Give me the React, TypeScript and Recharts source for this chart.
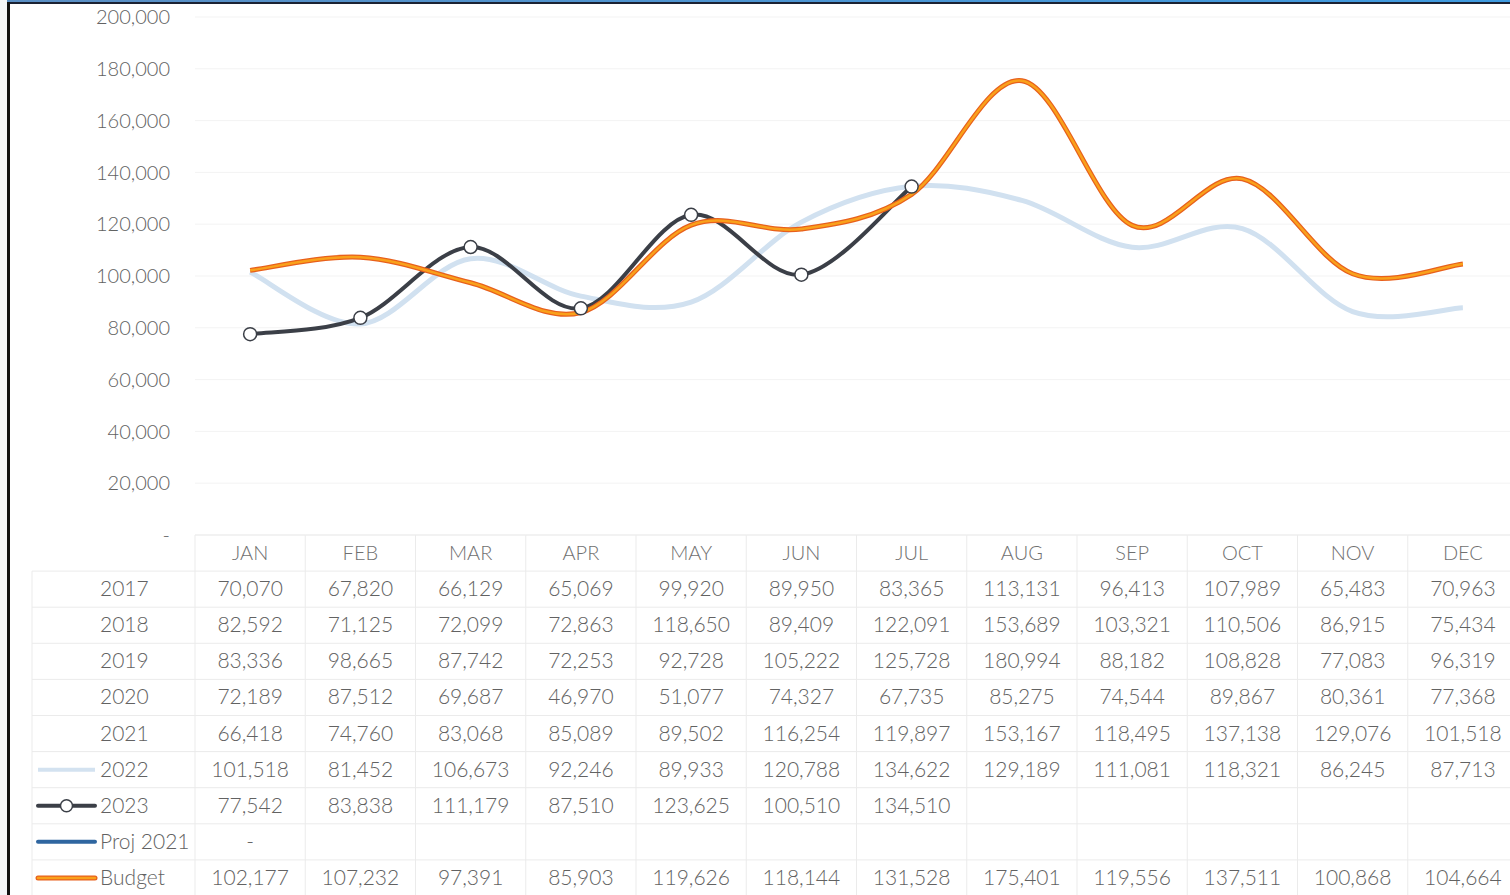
import React from 'react';
import { LineChart, Line, XAxis, YAxis, CartesianGrid } from 'recharts';

const months = ['JAN', 'FEB', 'MAR', 'APR', 'MAY', 'JUN', 'JUL', 'AUG', 'SEP', 'OCT', 'NOV', 'DEC'];

const y2017 = [70070, 67820, 66129, 65069, 99920, 89950, 83365, 113131, 96413, 107989, 65483, 70963];
const y2018 = [82592, 71125, 72099, 72863, 118650, 89409, 122091, 153689, 103321, 110506, 86915, 75434];
const y2019 = [83336, 98665, 87742, 72253, 92728, 105222, 125728, 180994, 88182, 108828, 77083, 96319];
const y2020 = [72189, 87512, 69687, 46970, 51077, 74327, 67735, 85275, 74544, 89867, 80361, 77368];
const y2021 = [66418, 74760, 83068, 85089, 89502, 116254, 119897, 153167, 118495, 137138, 129076, 101518];
const y2022 = [101518, 81452, 106673, 92246, 89933, 120788, 134622, 129189, 111081, 118321, 86245, 87713];
const y2023 = [77542, 83838, 111179, 87510, 123625, 100510, 134510, null, null, null, null, null];
const proj2021 = [0, null, null, null, null, null, null, null, null, null, null, null];
const budget = [102177, 107232, 97391, 85903, 119626, 118144, 131528, 175401, 119556, 137511, 100868, 104664];

const yTicks = [0, 20000, 40000, 60000, 80000, 100000, 120000, 140000, 160000, 180000, 200000];

const rows = [
  { label: '2017', values: y2017, key: 'none' },
  { label: '2018', values: y2018, key: 'none' },
  { label: '2019', values: y2019, key: 'none' },
  { label: '2020', values: y2020, key: 'none' },
  { label: '2021', values: y2021, key: 'none' },
  { label: '2022', values: y2022, key: 'light' },
  { label: '2023', values: y2023, key: 'dark' },
  { label: 'Proj 2021', values: proj2021, key: 'blue' },
  { label: 'Budget', values: budget, key: 'orange' },
];

const data = months.map((m, i) => ({
  month: m,
  y2022: y2022[i],
  y2023: y2023[i],
  proj2021: proj2021[i],
  budget: budget[i],
}));

const CHART_W = 1530;
const CHART_H = 895;
const Y_AXIS_W = 195;
const MARGIN_R = 12;
const BAND = (CHART_W - Y_AXIS_W - MARGIN_R) / months.length;
const ROW_H = 36.1;
const FONT = 'Lato, "Noto Sans", sans-serif';
const TEXT = '#626262';
const GRID = '#ebebeb';

const fmt = (v: number | null) => (v === null || v === undefined ? '' : v === 0 ? '-' : v.toLocaleString('en-US'));

// Excel-style smoothing: cubic bezier through the points, catmull-rom tangents
const excelSmooth = (context: any) => {
  let pts: number[][] = [];
  return {
    areaStart() {},
    areaEnd() {},
    lineStart() {
      pts = [];
    },
    point(x: number, y: number) {
      pts.push([+x, +y]);
    },
    lineEnd() {
      const n = pts.length;
      if (!n) return;
      context.moveTo(pts[0][0], pts[0][1]);
      for (let i = 0; i < n - 1; i++) {
        const p0 = pts[Math.max(i - 1, 0)];
        const p1 = pts[i];
        const p2 = pts[i + 1];
        const p3 = pts[Math.min(i + 2, n - 1)];
        context.bezierCurveTo(
          p1[0] + (p2[0] - p0[0]) / 6,
          p1[1] + (p2[1] - p0[1]) / 6,
          p2[0] - (p3[0] - p1[0]) / 6,
          p2[1] - (p3[1] - p1[1]) / 6,
          p2[0],
          p2[1]
        );
      }
    },
  };
};

const LegendKey = ({ kind, cx, cy }: { kind: string; cx: number; cy: number }) => {
  const x1 = cx;
  const x2 = cx + 57;
  if (kind === 'light') return <line x1={x1} x2={x2} y1={cy} y2={cy} stroke="#d3e2f0" strokeWidth={4} />;
  if (kind === 'blue') return <line x1={x1} x2={x2} y1={cy} y2={cy} stroke="#2f66a0" strokeWidth={4} strokeLinecap="round" />;
  if (kind === 'orange')
    return (
      <g>
        <line x1={x1} x2={x2} y1={cy} y2={cy} stroke="#e8601c" strokeWidth={5} strokeLinecap="round" />
        <line x1={x1} x2={x2} y1={cy} y2={cy} stroke="#f9a11b" strokeWidth={2.5} strokeLinecap="round" />
      </g>
    );
  if (kind === 'dark')
    return (
      <g>
        <line x1={x1} x2={x2} y1={cy} y2={cy} stroke="#3b3f47" strokeWidth={4} strokeLinecap="round" />
        <circle cx={(x1 + x2) / 2} cy={cy} r={6} fill="#fff" stroke="#3b3f47" strokeWidth={1.5} />
      </g>
    );
  return null;
};

const TableTick = (props: any) => {
  const { x, y, payload, index } = props;
  const left = x - BAND / 2;
  const right = x + BAND / 2;
  const bottom = y + ROW_H * (rows.length + 1);
  return (
    <g fontFamily={FONT} fontWeight={300}>
      <line x1={right} x2={right} y1={y} y2={bottom} stroke={GRID} />
      {index === 0 && <line x1={left} x2={left} y1={y} y2={bottom} stroke={GRID} />}
      <line x1={left} x2={right} y1={y} y2={y} stroke={GRID} />
      <text x={x} y={y + ROW_H / 2 + 6.5} textAnchor="middle" fontSize={20} fill="#707070">
        {payload.value}
      </text>
      {rows.map((r, ri) => {
        const top = y + ROW_H * (ri + 1);
        return (
          <g key={r.label}>
            <line x1={left} x2={right} y1={top} y2={top} stroke={GRID} />
            <text x={x} y={top + ROW_H / 2 + 7} textAnchor="middle" fontSize={21} fill={TEXT}>
              {fmt(r.values[index])}
            </text>
          </g>
        );
      })}
      {index === 0 && (
        <g>
          <line x1={32} x2={32} y1={y + ROW_H} y2={bottom} stroke={GRID} />
          {rows.map((r, ri) => {
            const top = y + ROW_H * (ri + 1);
            return (
              <g key={r.label}>
                <line x1={32} x2={left} y1={top} y2={top} stroke={GRID} />
                <LegendKey kind={r.key} cx={38} cy={top + ROW_H / 2} />
                <text x={100} y={top + ROW_H / 2 + 7} fontSize={21} fill={TEXT}>
                  {r.label}
                </text>
              </g>
            );
          })}
        </g>
      )}
    </g>
  );
};

export default function App() {
  return (
    <div style={{ position: 'absolute', left: 0, top: 0, width: 1510, height: 895, overflow: 'hidden', background: '#fff' }}>
      <LineChart width={CHART_W} height={CHART_H} data={data} margin={{ top: 17, right: MARGIN_R, left: 0, bottom: 0 }}>
        <CartesianGrid vertical={false} stroke="#f3f3f3" />
        <XAxis
          dataKey="month"
          interval={0}
          axisLine={false}
          tickLine={false}
          tickSize={0}
          tickMargin={0}
          height={CHART_H - 535}
          padding={{ left: BAND / 2, right: BAND / 2 }}
          tick={<TableTick />}
        />
        <YAxis
          width={Y_AXIS_W}
          domain={[0, 200000]}
          ticks={yTicks}
          interval={0}
          axisLine={false}
          tickLine={false}
          tickMargin={19}
          tickFormatter={(v: number) => (v === 0 ? '-  ' : v.toLocaleString('en-US'))}
          tick={{ fontSize: 20, fill: TEXT, fontFamily: FONT, fontWeight: 300 }}
        />
        <Line dataKey="y2022" type={excelSmooth as any} stroke="#d1e1f0" strokeWidth={5} dot={false} isAnimationActive={false} />
        <Line
          dataKey="y2023"
          type={excelSmooth as any}
          stroke="#3b3f47"
          strokeWidth={4}
          dot={{ r: 6.5, fill: '#fff', stroke: '#3b3f47', strokeWidth: 1.5 }}
          isAnimationActive={false}
        />
        <Line dataKey="proj2021" type={excelSmooth as any} stroke="#2f66a0" strokeWidth={4} dot={false} isAnimationActive={false} />
        <Line dataKey="budget" name="budget-edge" type={excelSmooth as any} stroke="#e8601c" strokeWidth={5} dot={false} isAnimationActive={false} />
        <Line dataKey="budget" name="budget" type={excelSmooth as any} stroke="#f9a11b" strokeWidth={2.5} dot={false} isAnimationActive={false} />
      </LineChart>
      {/* frame of the screen */}
      <div style={{ position: 'absolute', left: 0, top: 0, width: 1510, height: 2, background: 'linear-gradient(90deg, #5b8fc4, #3f9be0)' }} />
      <div style={{ position: 'absolute', left: 0, top: 2, width: 1510, height: 2, background: '#1b2233' }} />
      <div style={{ position: 'absolute', left: 7, top: 2, width: 3, height: 893, background: '#111' }} />
      <div style={{ position: 'absolute', left: 0, top: 0, width: 7, height: 895, background: '#f4f6f8' }} />
    </div>
  );
}
